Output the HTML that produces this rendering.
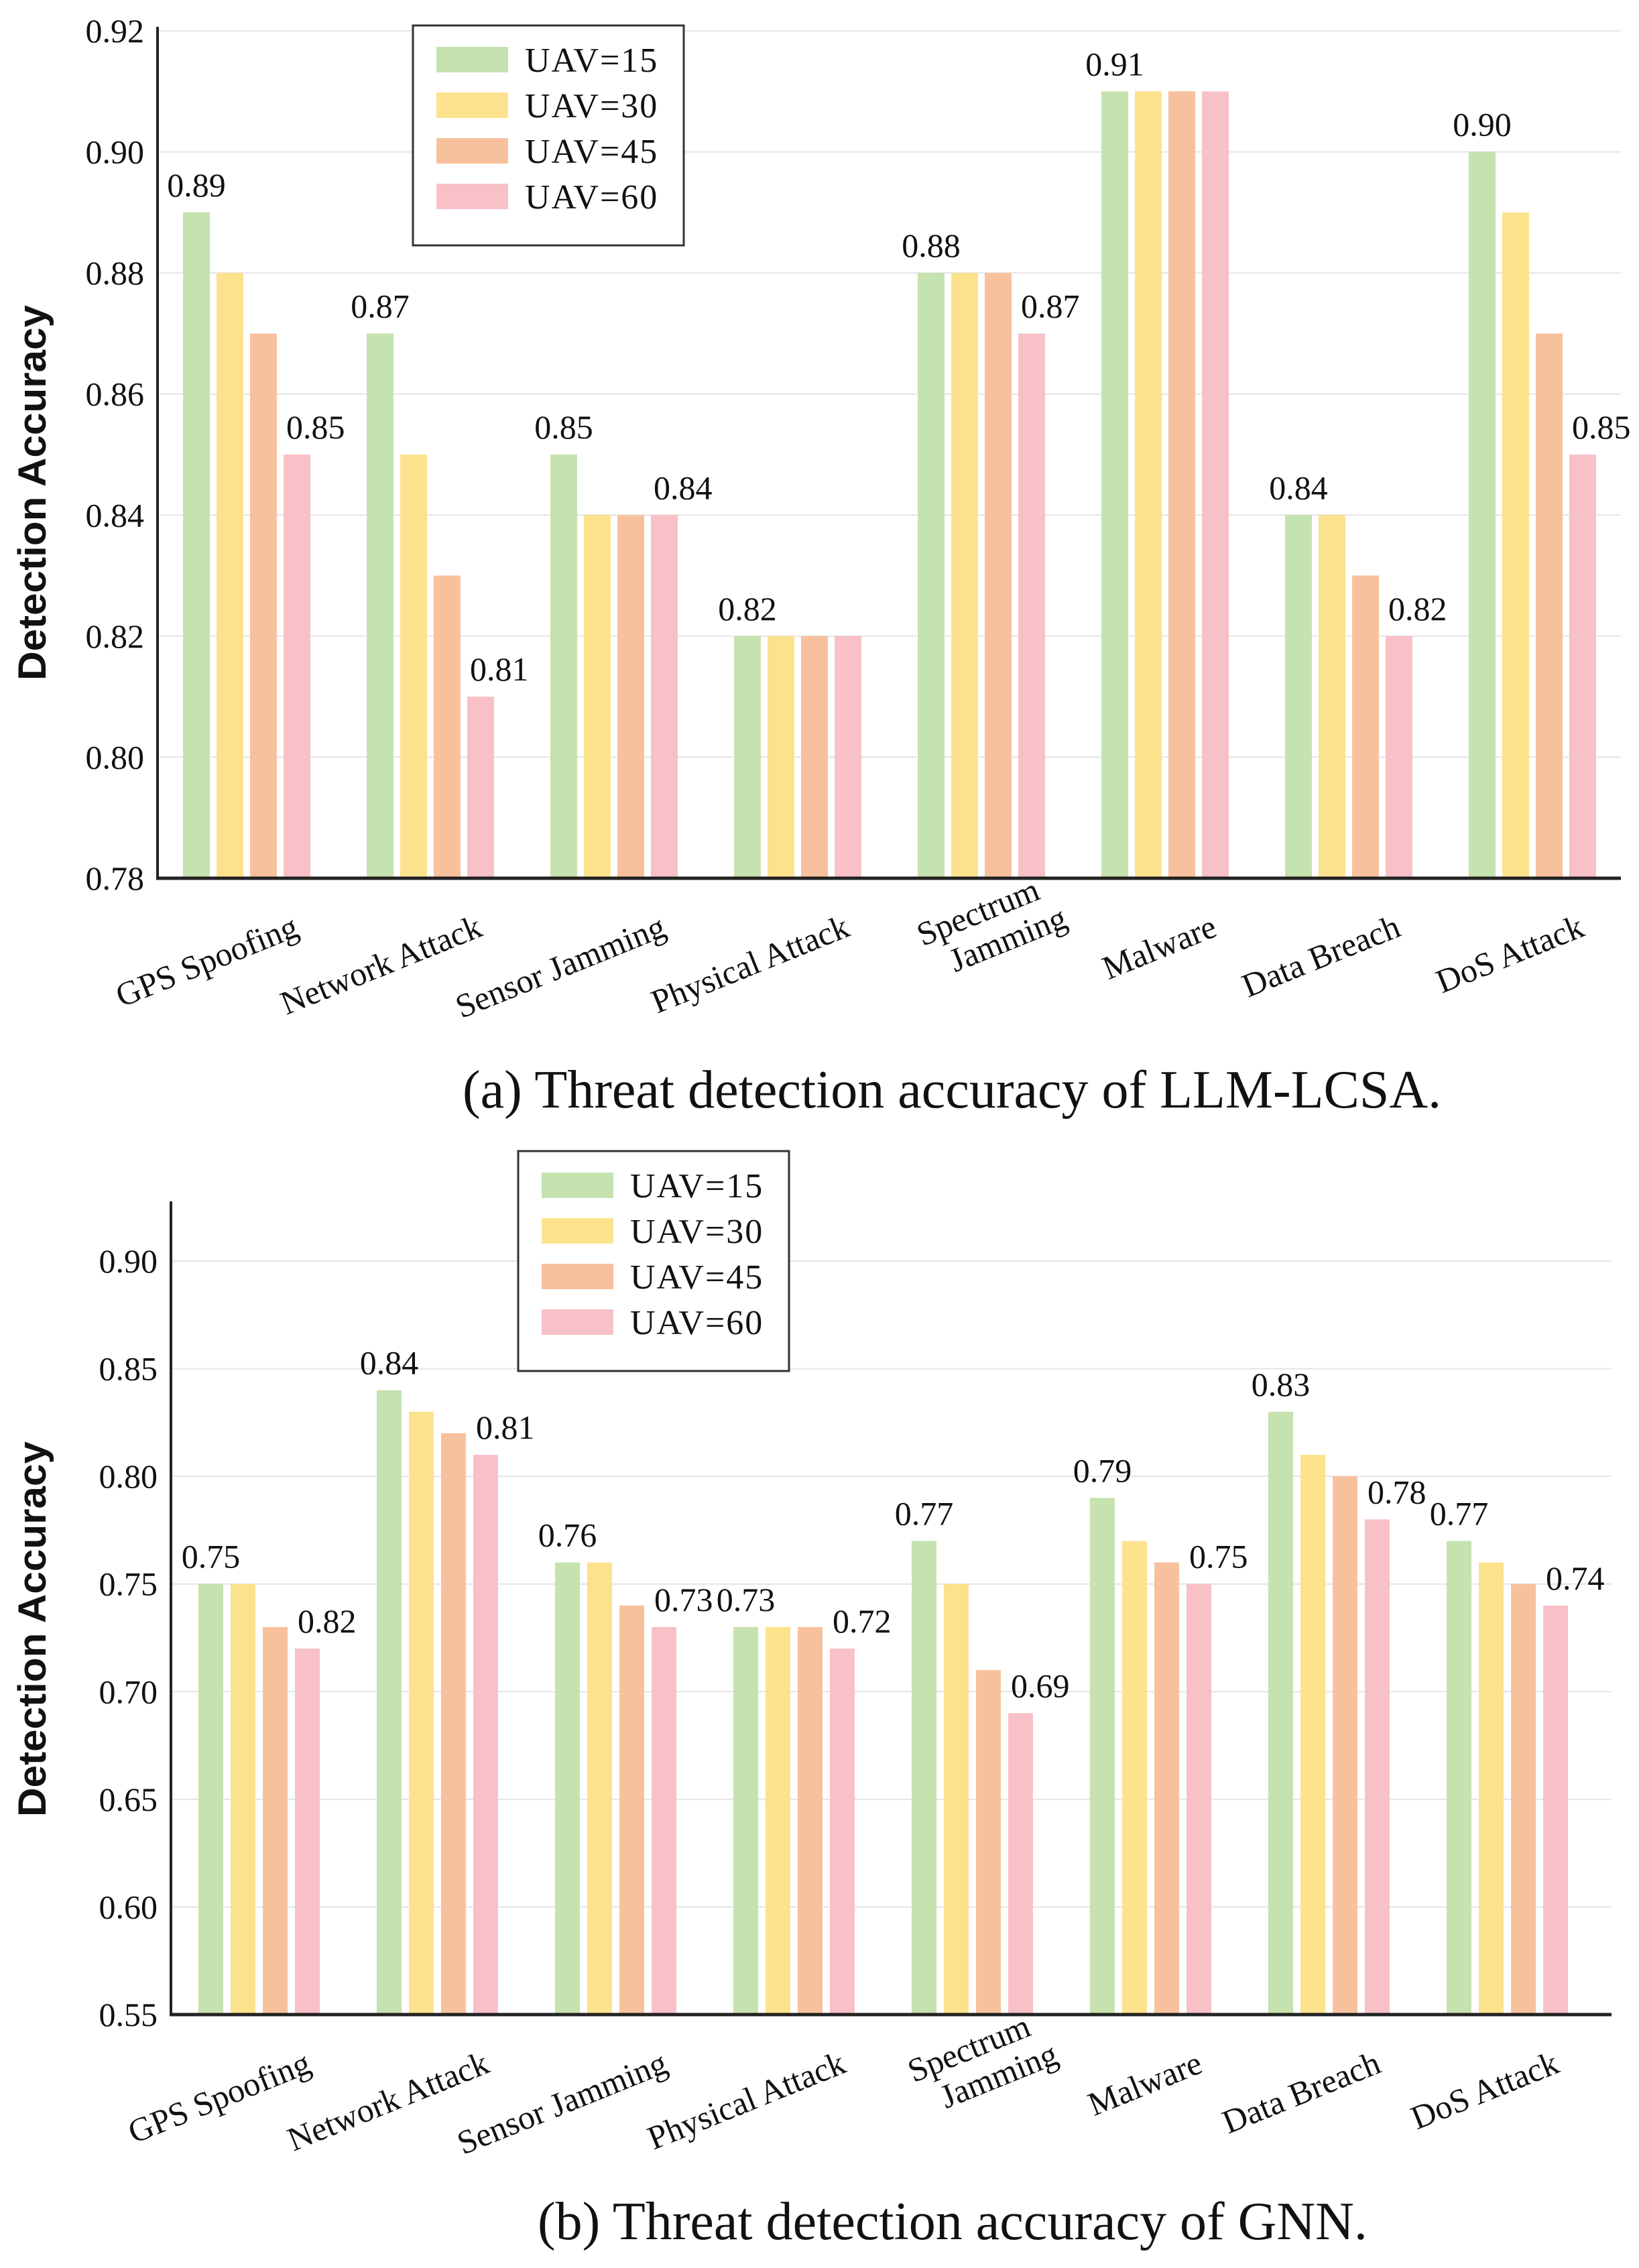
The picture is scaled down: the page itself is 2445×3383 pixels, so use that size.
<!DOCTYPE html>
<html><head><meta charset="utf-8"><style>
html,body{margin:0;padding:0;background:#fff;}
svg{display:block;}
text{font-family:"Liberation Serif",serif;fill:#111;}
</style></head><body>
<svg id="fig" width="2445" height="3383" viewBox="0 0 2445 3383" xmlns="http://www.w3.org/2000/svg"></svg>
<script>
const categories = ["GPS Spoofing","Network Attack","Sensor Jamming","Physical Attack","Spectrum\nJamming","Malware","Data Breach","DoS Attack"];
const seriesNames = ["UAV=15","UAV=30","UAV=45","UAV=60"];
const colors = ["#c6e2ae","#fde28e","#f8c19d","#f7c1c7"];
// Chart (a) LLM-LCSA
const a15 = [0.89,0.87,0.85,0.82,0.88,0.91,0.84,0.90];
const a30 = [0.88,0.85,0.84,0.82,0.88,0.91,0.84,0.89];
const a45 = [0.87,0.83,0.84,0.82,0.88,0.91,0.83,0.87];
const a60 = [0.85,0.81,0.84,0.82,0.87,0.91,0.82,0.85];
const aFirstLabels = ["0.89","0.87","0.85","0.82","0.88","0.91","0.84","0.90"];
const aLastLabels = ["0.85","0.81","0.84",null,"0.87",null,"0.82","0.85"];
const aTicks = ["0.78","0.80","0.82","0.84","0.86","0.88","0.90","0.92"];
// Chart (b) GNN
const b15 = [0.75,0.84,0.76,0.73,0.77,0.79,0.83,0.77];
const b30 = [0.75,0.83,0.76,0.73,0.75,0.77,0.81,0.76];
const b45 = [0.73,0.82,0.74,0.73,0.71,0.76,0.80,0.75];
const b60 = [0.72,0.81,0.73,0.72,0.69,0.75,0.78,0.74];
const bFirstLabels = ["0.75","0.84","0.76","0.73","0.77","0.79","0.83","0.77"];
const bLastLabels = ["0.82","0.81","0.73","0.72","0.69","0.75","0.78","0.74"];
const bTicks = ["0.55","0.60","0.65","0.70","0.75","0.80","0.85","0.90"];

const NS="http://www.w3.org/2000/svg";
const svg=document.getElementById('fig');
function mk(tag,attrs,parent){const e=document.createElementNS(NS,tag);for(const k in attrs)e.setAttribute(k,attrs[k]);(parent||svg).appendChild(e);return e;}

function drawChart(cfg){
  const g=mk('g',{});
  
  
  const yScale=v=>cfg.yBottom-(v-cfg.yMin)/(cfg.yMax-cfg.yMin)*(cfg.yBottom-cfg.yTopVal);
  const xGroup=i=>cfg.x0+i*cfg.step;
  cfg.ticks.forEach(t=>{
    const y=yScale(parseFloat(t));
    if(parseFloat(t)!==cfg.yMin){
      const l=mk('line',{x1:cfg.axisX,x2:cfg.right,y1:y,y2:y,stroke:'#e4e4e4','stroke-width':2},g);
      
      
    }
    const tx=mk('text',{x:cfg.axisX-20,y:y+17,'text-anchor':'end','font-size':50},g);
    tx.textContent=t;
    
    
  });
  cfg.series.forEach((arr,s)=>{
    arr.forEach((v,i)=>{
      const x=xGroup(i)+s*cfg.barStep;
      const y=yScale(v);
      const r=mk('rect',{x:x,y:y,width:cfg.barW,height:cfg.yBottom-y,fill:colors[s]},g);
      
      
    });
  });
  categories.forEach((c,i)=>{
    const f=cfg.first[i];
    if(f){const t=mk('text',{x:xGroup(i)+cfg.barW/2,y:yScale(cfg.series[0][i])-24,'text-anchor':'middle','font-size':50},g);
      t.textContent=f;
      
      }
    const l=cfg.last[i];
    if(l){const t=mk('text',{x:xGroup(i)+3*cfg.barStep+4,y:yScale(cfg.series[3][i])-24,'text-anchor':'start','font-size':50},g);
      t.textContent=l;
      
      }
  });
  const ya=mk('line',{x1:cfg.axisX,x2:cfg.axisX,y1:cfg.axisTop,y2:cfg.yBottom+2,stroke:'#222','stroke-width':4},g);
  
  
  const xa=mk('line',{x1:cfg.axisX-2,x2:cfg.right,y1:cfg.yBottom,y2:cfg.yBottom,stroke:'#222','stroke-width':5},g);
  
  
  categories.forEach((c,i)=>{
    const cx=xGroup(i)+(3*cfg.barStep+cfg.barW)/2;
    const lines=c.split('\n');
    const ax=cx+80, ay=cfg.yBottom+85;
    const t=mk('text',{transform:`translate(${ax},${ay}) rotate(-22)`,'text-anchor':'end','font-size':50},g);
    lines.forEach((ln,k)=>{const sp=mk('tspan',{x:(k?22:0),dy:(k?54:0)},t);sp.textContent=ln;});
    if(lines.length>1)t.setAttribute('transform',`translate(${ax+10},${ay-55}) rotate(-22)`);
    
    
  });
  const yt=mk('text',{transform:`translate(${cfg.titleX},${cfg.titleY}) rotate(-90)`,'text-anchor':'middle','font-size':58,'font-weight':'bold',textLength:560,lengthAdjust:'spacingAndGlyphs',style:'font-family:"Liberation Sans",sans-serif'},g);
  yt.textContent='Detection  Accuracy';
  
  
  const lg=mk('g',{},g);
  
  
  mk('rect',{x:cfg.lx,y:cfg.ly,width:404,height:328,fill:'#fff',stroke:'#333','stroke-width':3},lg);
  seriesNames.forEach((n,s)=>{
    const ry=cfg.ly+51+s*68;
    const sw=mk('rect',{x:cfg.lx+35,y:ry-19,width:107,height:38,fill:colors[s]},lg);
    
    
    const t=mk('text',{x:cfg.lx+167,y:ry+18,'font-size':52,'letter-spacing':2},lg);
    t.textContent=n;
    
    
  });
  const cap=mk('text',{x:cfg.capX,y:cfg.capY,'font-size':80},g);
  cap.textContent=cfg.caption;
  
  
}

drawChart({name:'chart-llm-lcsa',series:[a15,a30,a45,a60],first:aFirstLabels,last:aLastLabels,ticks:aTicks,
  yMin:0.78,yMax:0.92,yBottom:1310,yTopVal:46,axisTop:40,axisX:235,right:2418,x0:273,step:274,barW:40,barStep:50,
  titleX:68,titleY:735,lx:616,ly:38,capX:690,capY:1652,caption:'(a) Threat detection accuracy of LLM-LCSA.'});
drawChart({name:'chart-gnn',series:[b15,b30,b45,b60],first:bFirstLabels,last:bLastLabels,ticks:bTicks,
  yMin:0.55,yMax:0.90,yBottom:3005,yTopVal:1881,axisTop:1792,axisX:255,right:2404,x0:296,step:266,barW:37,barStep:48,
  titleX:68,titleY:2430,lx:773,ly:1717,capX:802,capY:3340,caption:'(b) Threat detection accuracy of GNN.'});
</script>
</body></html>
